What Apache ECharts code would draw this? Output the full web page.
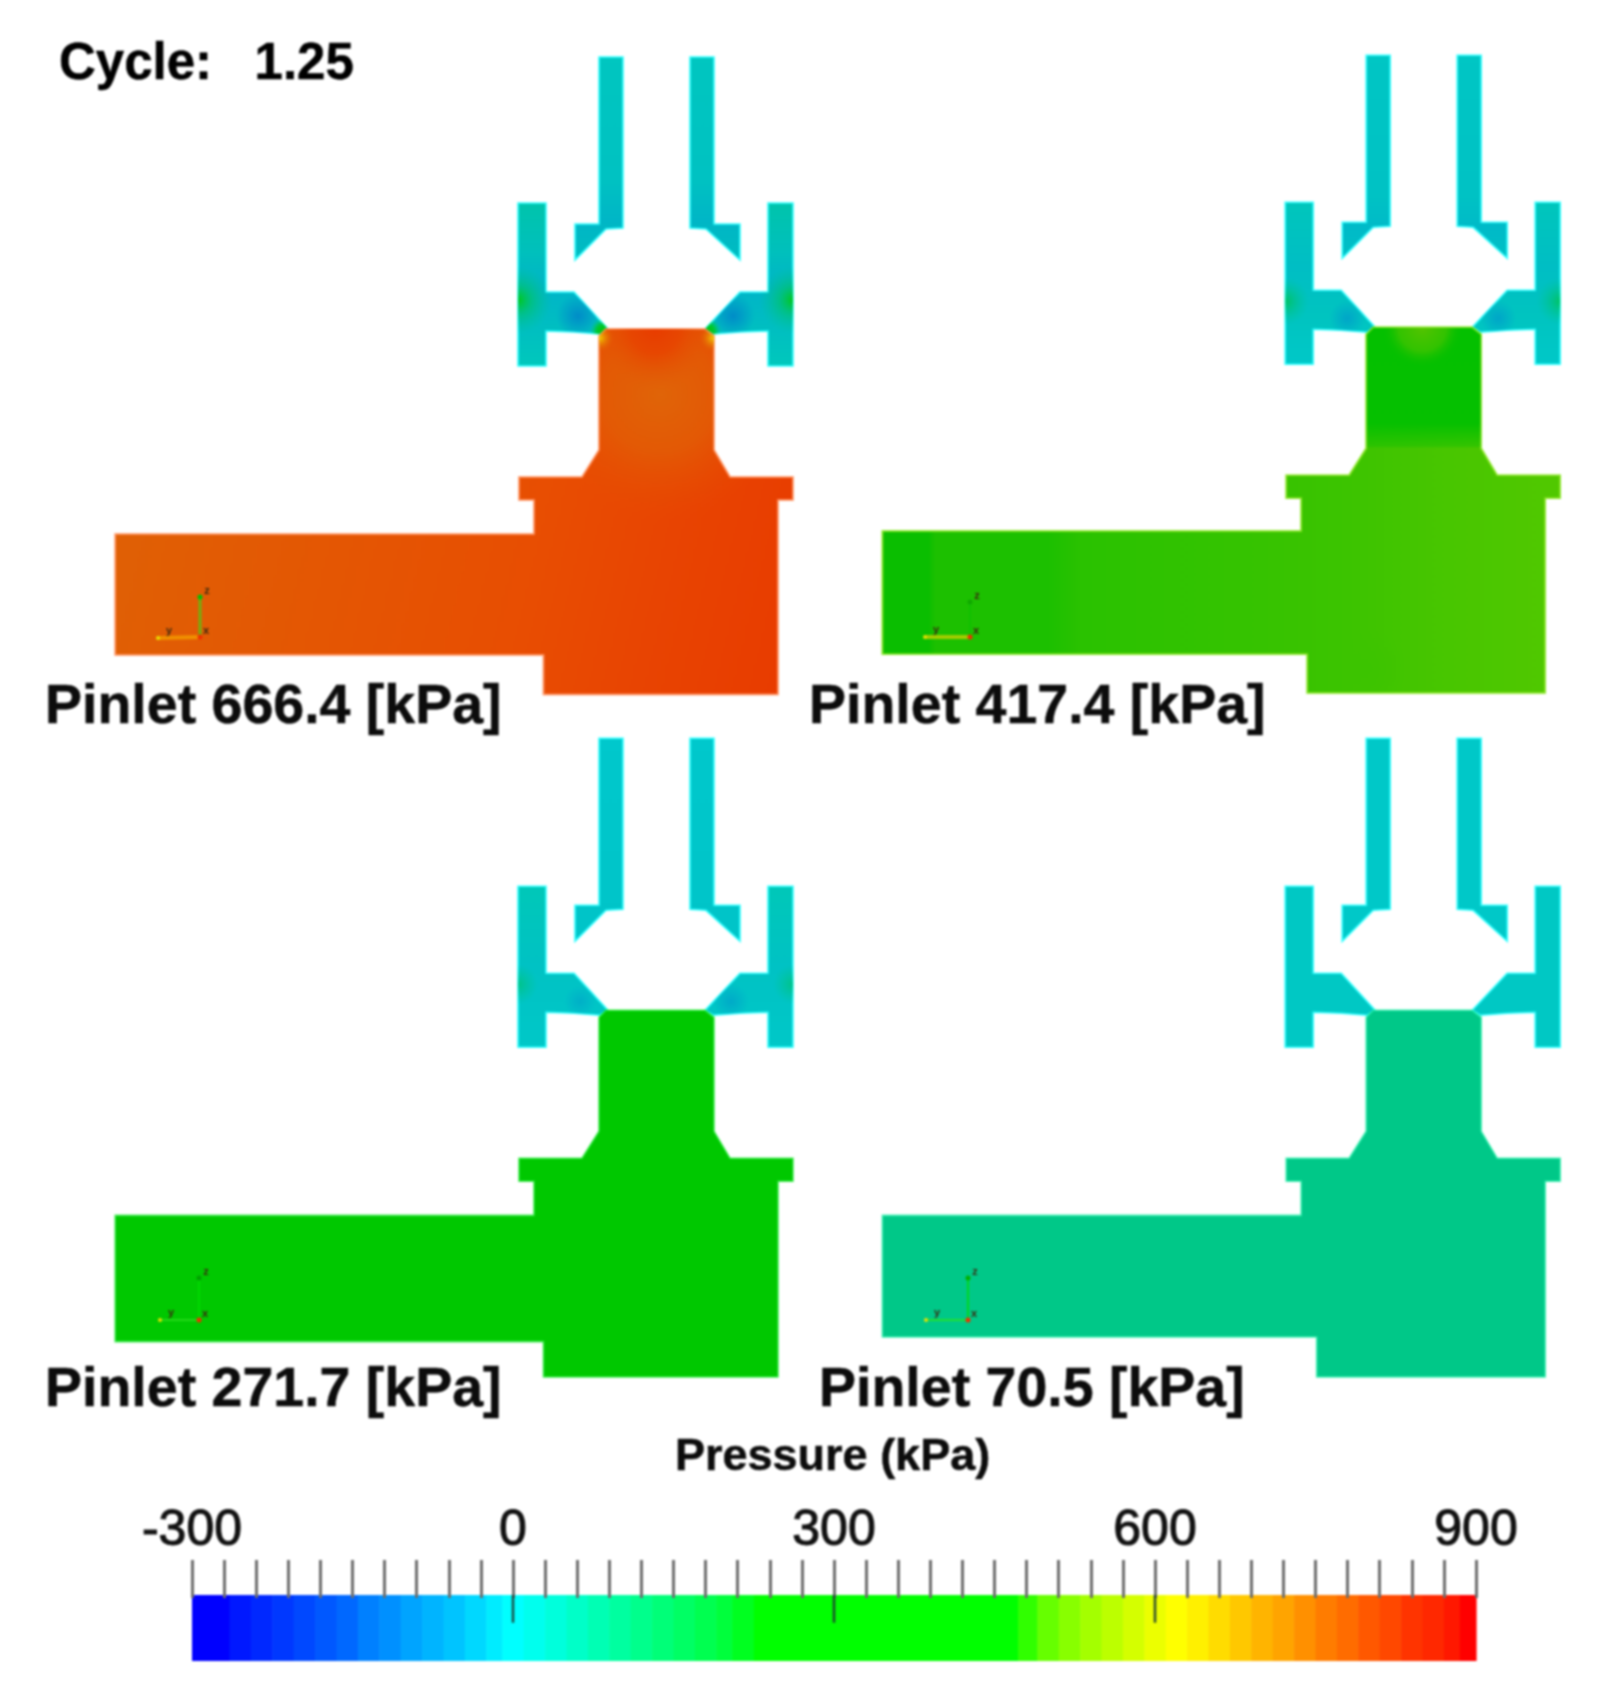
<!DOCTYPE html>
<html><head><meta charset="utf-8">
<style>html,body{margin:0;padding:0;background:#fff}#c{width:1604px;height:1695px;filter:blur(0.9px)}</style>
<script src="https://cdn.jsdelivr.net/npm/echarts@6/dist/echarts.min.js"></script>
</head><body><div id="c"></div>
<script>
// ---- text ----
const cycleLabel = 'Cycle:   1.25';
const panelLabels = ['Pinlet 666.4 [kPa]','Pinlet 417.4 [kPa]','Pinlet 271.7 [kPa]','Pinlet 70.5 [kPa]'];
const barTitle = 'Pressure (kPa)';
const barInnerTicks = [0,300,600];
const bandStart = [-300,-265,-245,-225,-205,-185,-165,-145,-125,-105,-85,-65,-45,-25,-10,10,30,50,70,90,110,130,150,170,190,205,225,472,490,510,530,550,570,590,610,630,650,670,690,710,730,750,770,790,810,830,850,870,885];
const bandEnd   = [-265,-245,-225,-205,-185,-165,-145,-125,-105,-85,-65,-45,-25,-10,10,30,50,70,90,110,130,150,170,190,205,225,472,490,510,530,550,570,590,610,630,650,670,690,710,730,750,770,790,810,830,850,870,885,900];
const bandColor = ['#0000ff','#0018ff','#0028ff','#0038ff','#0048ff','#0058ff','#0068ff','#0080ff','#0090ff','#00a4ff','#00b4ff','#00c4ff','#00d8ff','#00ecff','#00ffff','#00ffee','#00ffdc','#00ffc8','#00ffb4','#00ffa0','#00ff8c','#00ff78','#00ff64','#00ff50','#00ff3c','#00ff20','#00ff00','#30ff00','#66ff00','#88ff00','#a4ff00','#bcff00','#d4ff00','#ecff00','#ffff00','#fff000','#ffdc00','#ffc800','#ffb400','#ffa400','#ff9000','#ff7c00','#ff6c00','#ff5800','#ff4800','#ff3400','#ff2800','#ff1800','#ff0000'];
// ---- geometry of the part, in pixels of panel 1 ----
const tubeLeft  = [[599,57],[623,57],[623,228],[606,229],[575,260],[575,224],[599,224]];
const tubeRight = [[690,57],[714,57],[714,224],[740,224],[740,260],[706,229],[690,228]];
const neck      = [[606,329],[705,329],[714,336],[714,449],[599,449],[599,336]];
const panelDx   = [0,767.2,0,767.2];
const panelDy   = [0,-1.7,681.3,681.3];
const valveTop  = [203,204,205,205];
const pipeTop   = [534,532.7,534.1,534.1];
const pipeBot   = [655,656,660.3,655.7];
const ledgeX    = [543.5,540,543.5,549.5];
const bodyBot   = [694.5,694.7,695.7,695.7];
function bodyOf(i){return [[606,329],[705,329],[714,336],[714,450],[730,477],[793,477],[793,500],[778,500],[778,bodyBot[i]],[ledgeX[i],bodyBot[i]],[ledgeX[i],pipeBot[i]],[115.2,pipeBot[i]],[115.2,pipeTop[i]],[534,pipeTop[i]],[534,500],[519,500],[519,477],[582,477],[599,450],[599,336]];}
function valveLeftOf(i){return [[518,valveTop[i]],[546,valveTop[i]],[546,292],[574,292],[608,329],[600,334],[574,332],[546,331],[546,366],[518,366]];}
function valveRightOf(i){return [[768,valveTop[i]],[793,valveTop[i]],[793,366],[768,366],[768,331],[740,332],[713,334],[705,329],[740,292],[768,292]];}
// ---- pressure field, as read: [shape, gradient kind, geometry, stops] ----
const edge = ['rgba(255,150,100,0.75)','rgba(140,230,40,0.8)','rgba(40,235,60,0.8)','rgba(40,240,170,0.8)'];
const tubeEdge = '#30ffff';
const field = [
 [ // panel 1
  ['tubeLeft','L',[0,57,0,260],[[0,'#00c6c0'],[.6,'#00c2c2'],[.8,'#00b6c6'],[1,'#00bcc0']]],
  ['tubeRight','L',[0,57,0,260],[[0,'#00c6c0'],[.6,'#00c2c2'],[.8,'#00b6c6'],[1,'#00bcc0']]],
  ['valveLeft','L',[0,203,0,366],[[0,'#00c4ac'],[.3,'#00c0bc'],[.52,'#00b4c8'],[.8,'#00c0c0'],[1,'#00c8bc']]],
  ['valveRight','L',[0,203,0,366],[[0,'#00c4ac'],[.3,'#00c0bc'],[.52,'#00b4c8'],[.8,'#00c0c0'],[1,'#00c8bc']]],
  ['valveLeft','R',[578,316,22],[[0,'rgba(0,140,200,1)'],[1,'rgba(0,140,200,0)']]],
  ['valveRight','R',[733,316,22],[[0,'rgba(0,140,200,1)'],[1,'rgba(0,140,200,0)']]],
  ['valveLeft','R',[518,300,34],[[0,'rgba(0,200,30,1)'],[.4,'rgba(0,195,110,.7)'],[1,'rgba(0,195,150,0)']]],
  ['valveRight','R',[793,300,34],[[0,'rgba(0,200,30,1)'],[.4,'rgba(0,195,110,.7)'],[1,'rgba(0,195,150,0)']]],
  ['valveLeft','R',[603,331,13],[[0,'rgba(0,200,0,1)'],[.5,'rgba(0,200,40,.9)'],[1,'rgba(0,200,120,0)']]],
  ['valveRight','R',[708,331,13],[[0,'rgba(0,200,0,1)'],[.5,'rgba(0,200,40,.9)'],[1,'rgba(0,200,120,0)']]],
  ['body','L',[115,534,778,694],[[0,'#e06005'],[.6,'#e84e02'],[.8,'#e84402'],[1,'#e83c00']]],
  ['body','R',[660,395,125],[[0,'rgba(224,100,8,1)'],[.45,'rgba(226,94,6,.8)'],[1,'rgba(232,76,2,0)']]],
  ['neck','R',[655,329,62],[[0,'rgba(232,60,0,1)'],[.4,'rgba(232,66,0,.8)'],[1,'rgba(226,92,6,0)']]],
  ['neck','R',[600,338,14],[[0,'rgba(240,210,0,.95)'],[1,'rgba(226,92,6,0)']]],
  ['neck','R',[713,338,14],[[0,'rgba(240,210,0,.95)'],[1,'rgba(226,92,6,0)']]]
 ],
 [ // panel 2
  ['tubeLeft','L',[0,57,0,260],[[0,'#00c6c4'],[.7,'#00c2c4'],[.85,'#00bac8'],[1,'#00c0c4']]],
  ['tubeRight','L',[0,57,0,260],[[0,'#00c6c4'],[.7,'#00c2c4'],[.85,'#00bac8'],[1,'#00c0c4']]],
  ['valveLeft','L',[0,203,0,366],[[0,'#00c6bc'],[.4,'#00bec4'],[.7,'#00c4c0'],[1,'#00c8c8']]],
  ['valveRight','L',[0,203,0,366],[[0,'#00c6bc'],[.4,'#00bec4'],[.7,'#00c4c0'],[1,'#00c8c8']]],
  ['valveLeft','R',[580,320,18],[[0,'rgba(0,165,200,1)'],[1,'rgba(0,165,200,0)']]],
  ['valveRight','R',[731,320,18],[[0,'rgba(0,165,200,1)'],[1,'rgba(0,165,200,0)']]],
  ['valveLeft','R',[518,303,24],[[0,'rgba(0,195,90,.9)'],[1,'rgba(0,195,150,0)']]],
  ['valveRight','R',[793,303,24],[[0,'rgba(0,195,90,.9)'],[1,'rgba(0,195,150,0)']]],
  ['body','L',[115,0,778,0],[[0,'#0abe00'],[.07,'#0abe00'],[.08,'#1cc000'],[.25,'#1cc000'],[.3,'#2ac200'],[.7,'#3cc400'],[.85,'#48c600'],[1,'#50c800']]],
  ['neck','L',[0,329,0,449],[[0,'#04c000'],[.8,'#06c000'],[1,'rgba(6,192,0,0.3)']]],
  ['neck','R',[655,329,40],[[0,'rgba(84,196,0,1)'],[.6,'rgba(70,196,0,.7)'],[1,'rgba(6,192,0,0)']]],
  ['body','R',[600,670,40],[[0,'rgba(60,196,0,.9)'],[1,'rgba(60,196,0,0)']]]
 ],
 [ // panel 3
  ['tubeLeft','L',[0,57,0,260],[[0,'#00c8cc'],[1,'#00c4c8']]],
  ['tubeRight','L',[0,57,0,260],[[0,'#00c8cc'],[1,'#00c4c8']]],
  ['valveLeft','L',[0,203,0,366],[[0,'#00c8b8'],[.5,'#00c2c4'],[1,'#00c8c8']]],
  ['valveRight','L',[0,203,0,366],[[0,'#00c8b8'],[.5,'#00c2c4'],[1,'#00c8c8']]],
  ['valveLeft','R',[580,320,16],[[0,'rgba(0,175,200,1)'],[1,'rgba(0,175,200,0)']]],
  ['valveRight','R',[731,320,18],[[0,'rgba(0,170,200,1)'],[1,'rgba(0,170,200,0)']]],
  ['valveLeft','R',[518,303,20],[[0,'rgba(0,195,130,.9)'],[1,'rgba(0,195,150,0)']]],
  ['valveRight','R',[793,303,20],[[0,'rgba(0,195,130,.9)'],[1,'rgba(0,195,150,0)']]],
  ['body','L',[115,0,778,0],[[0,'#00c800'],[1,'#00c800']]]
 ],
 [ // panel 4
  ['tubeLeft','L',[0,57,0,260],[[0,'#00c8c8'],[1,'#00c8c8']]],
  ['tubeRight','L',[0,57,0,260],[[0,'#00c8c8'],[1,'#00c8c8']]],
  ['valveLeft','L',[0,203,0,366],[[0,'#00c8c4'],[1,'#00c8c4']]],
  ['valveRight','L',[0,203,0,366],[[0,'#00c8c4'],[1,'#00c8c4']]],
  ['body','L',[115,0,778,0],[[0,'#00c888'],[1,'#00c888']]]
 ]
];
// ---- coordinate triads ----
const triadCorner = [[200,637],[970,637],[199,1320],[968,1320]];
const triadUp     = [[200,597],[970,602],[199,1278],[968,1278]];
const triadSide   = [[158,638],[925,637],[160,1320],[926,1320]];
const triadUpColor   = ['#70b010','#10c000','#00e000','#00d820'];
const triadSideColor = ['#f09000','#a4cc00','#30e020','#20e030'];
const triadSideWidth = [4,4,1.5,2];
const triadUpWidth   = [3,2,1.5,2];
const triadTipColor  = ['#00c000','#10a800','#00a000','#00b000'];

const polys=[];
field.forEach((layers,p)=>{
  const local={tubeLeft,tubeRight,neck,valveLeft:valveLeftOf(p),valveRight:valveRightOf(p),body:bodyOf(p)};
  layers.forEach(l=>{
    const seen=l[0];
    polys.push({p,pts:local[seen],kind:l[1],geo:l[2],stops:l[3],
      stroke:(seen==='body')?edge[p]:(seen.startsWith('tube')||seen.startsWith('valve'))&&l[1]==='L'?tubeEdge:null});
  });
});
function fieldItem(params,api){
  const d=polys[api.value(0)],dx=panelDx[d.p],dy=panelDy[d.p];
  const c=(x,y)=>api.coord([x+dx,y+dy]);
  const pts=d.pts.map(q=>c(q[0],q[1]));
  const st=d.stops.map(s=>({offset:s[0],color:s[1]}));
  let fill;
  if(d.kind==='L'){const a=c(d.geo[0],d.geo[1]),b=c(d.geo[2],d.geo[3]);fill=new echarts.graphic.LinearGradient(a[0],a[1],b[0],b[1],st,true);}
  else{const a=c(d.geo[0],d.geo[1]);fill=new echarts.graphic.RadialGradient(a[0],a[1],d.geo[2],st,true);}
  return {type:'polygon',shape:{points:pts},style:{fill,stroke:d.stroke||'none',lineWidth:d.stroke?1.6:0}};
}
function triadItem(params,api){
  const i=api.value(0);
  const g=triadCorner[i],u=triadUp[i],s=triadSide[i];
  const A=api.coord(g),B=api.coord(u),C=api.coord(s);
  const dot=(P,col,r)=>({type:'circle',shape:{cx:P[0],cy:P[1],r},style:{fill:col}});
  const txt=(t,P)=>({type:'text',style:{text:t,x:P[0],y:P[1],fill:'#3a2a10',font:'bold 11px "Liberation Sans"',textAlign:'center',textVerticalAlign:'middle'}});
  return {type:'group',children:[
    {type:'line',shape:{x1:A[0],y1:A[1],x2:B[0],y2:B[1]},style:{stroke:triadUpColor[i],lineWidth:triadUpWidth[i]}},
    {type:'line',shape:{x1:A[0],y1:A[1],x2:C[0],y2:C[1]},style:{stroke:triadSideColor[i],lineWidth:triadSideWidth[i]}},
    dot(B,triadTipColor[i],2.5),dot(C,'#e8e000',2),dot(A,'#f03000',2.5),
    txt('z',[B[0]+7,B[1]-6]),txt('y',[C[0]+11,C[1]-7]),txt('x',[A[0]+6,A[1]-6])
  ]};
}
function bandItem(params,api){
  const a=api.coord([api.value(0),1]),b=api.coord([api.value(1),0]);
  return {type:'rect',shape:{x:a[0],y:a[1],width:b[0]-a[0]+0.6,height:b[1]-a[1]},style:{fill:bandColor[params.dataIndex]}};
}
function innerTickItem(params,api){
  const a=api.coord([api.value(0),1]),b=api.coord([api.value(0),0.58]);
  return {type:'line',shape:{x1:a[0],y1:a[1],x2:b[0],y2:b[1]},style:{stroke:'rgba(30,60,50,0.9)',lineWidth:2.5}};
}
const bold='"Liberation Sans"';
const heavy={fontFamily:bold,fontWeight:'bold',color:'#0c0c0c',textBorderColor:'#0c0c0c',textBorderWidth:0.5};
const chart=echarts.init(document.getElementById('c'),null,{renderer:'canvas'});
chart.setOption({
  animation:false,backgroundColor:'#fff',
  title:[
    {text:cycleLabel,left:54,top:34,textStyle:Object.assign({},heavy,{fontSize:51,color:'#000'})},
    {text:panelLabels[0],left:40,top:675,textStyle:Object.assign({},heavy,{fontSize:55.5})},
    {text:panelLabels[1],left:804,top:675,textStyle:Object.assign({},heavy,{fontSize:55.5})},
    {text:panelLabels[2],left:40,top:1358,textStyle:Object.assign({},heavy,{fontSize:55.5})},
    {text:panelLabels[3],left:814,top:1358,textStyle:Object.assign({},heavy,{fontSize:55.5})},
    {text:barTitle,left:670,top:1430,textStyle:Object.assign({},heavy,{fontSize:45})}
  ],
  grid:[{left:0,top:0,width:1604,height:1695},{left:192,top:1595,width:1284,height:66}],
  xAxis:[
    {gridIndex:0,type:'value',min:0,max:1604,show:false},
    {gridIndex:1,type:'value',min:-300,max:900,interval:300,position:'top',offset:-3,z:5,
     axisLine:{show:true,onZero:false,lineStyle:{color:'rgba(0,0,0,0)'}},splitLine:{show:false},
     axisTick:{show:true,inside:false,length:38,lineStyle:{color:'#6e6e6e',width:3}},
     minorTick:{show:true,splitNumber:10,length:38,lineStyle:{color:'#6e6e6e',width:3}},
     axisLabel:{show:true,margin:42,fontFamily:bold,fontSize:50,color:'#111',textBorderColor:'#111',textBorderWidth:1.1,
       formatter:v=>String(v)}}
  ],
  yAxis:[
    {gridIndex:0,type:'value',min:0,max:1695,inverse:true,show:false},
    {gridIndex:1,type:'value',min:0,max:1,show:false}
  ],
  series:[
    {type:'custom',coordinateSystem:'cartesian2d',xAxisIndex:0,yAxisIndex:0,clip:false,silent:true,
     renderItem:fieldItem,data:polys.map((_,i)=>[i]),encode:{x:[],y:[]}},
    {type:'custom',coordinateSystem:'cartesian2d',xAxisIndex:0,yAxisIndex:0,clip:false,silent:true,
     renderItem:triadItem,data:panelLabels.map((_,i)=>[i]),encode:{x:[],y:[]}},
    {type:'custom',coordinateSystem:'cartesian2d',xAxisIndex:1,yAxisIndex:1,clip:false,silent:true,z:1,
     renderItem:bandItem,data:bandStart.map((s,i)=>[s,bandEnd[i]]),encode:{x:[0,1],y:[]}},
    {type:'custom',coordinateSystem:'cartesian2d',xAxisIndex:1,yAxisIndex:1,clip:false,silent:true,z:6,
     renderItem:innerTickItem,data:barInnerTicks.map(v=>[v]),encode:{x:0,y:[]}}
  ]
});
</script></body></html>
